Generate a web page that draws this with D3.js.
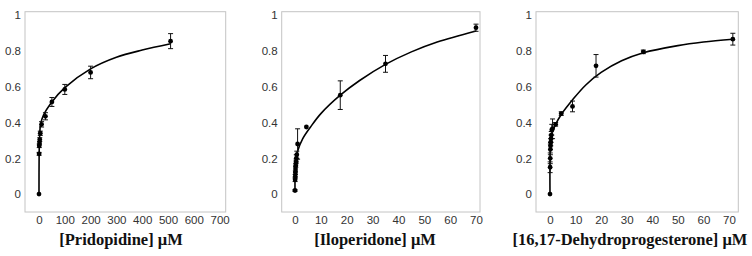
<!DOCTYPE html>
<html>
<head>
<meta charset="utf-8">
<script src="https://cdn.jsdelivr.net/npm/d3@7"></script>
<style>
  html, body { margin: 0; padding: 0; background: #fff; }
  svg { display: block; }
</style>
</head>
<body>
<div id="chart"></div>
<script>
// ---- data -------------------------------------------------------------------------------
const yTicks = [0, 0.2, 0.4, 0.6, 0.8, 1];
const yTickLabels = ['0', '0.2', '0.4', '0.6', '0.8', '1'];

const pridoTicks = [0, 100, 200, 300, 400, 500, 600, 700];
const pridoX   = [0, 0.5, 1, 2, 3, 5, 10, 25, 50, 100, 200, 510];
const pridoY   = [0, 0.225, 0.27, 0.285, 0.305, 0.34, 0.39, 0.435, 0.515, 0.585, 0.68, 0.855];
const pridoErr = [0, 0.008, 0.01, 0.01, 0.01, 0.012, 0.015, 0.02, 0.025, 0.028, 0.035, 0.042];
const pridoFitX = [0, 0.5, 2, 6, 17, 50, 100, 200, 300, 400, 510];
const pridoFitY = [0, 0.22, 0.3, 0.39, 0.44, 0.515, 0.595, 0.7, 0.765, 0.805, 0.84];

const iloTicks = [0, 10, 20, 30, 40, 50, 60, 70];
const iloX   = [0, 0.05, 0.1, 0.15, 0.2, 0.3, 0.4, 0.5, 0.7, 1, 4.4, 17.5, 35, 70];
const iloY   = [0.02, 0.08, 0.1, 0.12, 0.14, 0.16, 0.18, 0.2, 0.22, 0.28, 0.375, 0.553, 0.728, 0.93];
const iloErr = [0.005, 0.01, 0.01, 0.01, 0.015, 0.01, 0.01, 0.02, 0.02, 0.085, 0, 0.08, 0.047, 0.02];
const iloFitX = [0, 0.2, 1, 3, 6, 10, 17.5, 25, 35, 45, 55, 70];
const iloFitY = [0.02, 0.17, 0.24, 0.31, 0.375, 0.45, 0.553, 0.635, 0.725, 0.795, 0.85, 0.912];

const dhpTicks = [0, 10, 20, 30, 40, 50, 60, 70];
const dhpX   = [0, 0.05, 0.1, 0.15, 0.2, 0.3, 0.4, 0.5, 0.7, 1, 2.2, 4.4, 8.8, 18, 36.5, 71.5];
const dhpY   = [0, 0.15, 0.2, 0.25, 0.27, 0.29, 0.31, 0.33, 0.36, 0.365, 0.39, 0.45, 0.49, 0.717, 0.795, 0.866];
const dhpErr = [0, 0.03, 0.03, 0.03, 0.02, 0.02, 0.02, 0.02, 0.03, 0.055, 0.01, 0.01, 0.03, 0.063, 0.01, 0.033];
const dhpFitX = [0, 0.3, 1, 2.2, 4.4, 9, 14, 20, 28, 36.5, 50, 60, 71.5];
const dhpFitY = [0, 0.3, 0.35, 0.39, 0.445, 0.53, 0.61, 0.68, 0.745, 0.79, 0.83, 0.85, 0.866];

const titles = ['[Pridopidine] μM', '[Iloperidone] μM', '[16,17-Dehydroprogesterone] μM'];

// ---- layout ------------------------------------------------------------------------------
const width = 752, height = 256;
const frameTop = 11.7, frameBottom = 212;
const panels = [
  { ticks: pridoTicks, x: pridoX, y: pridoY, err: pridoErr, fx: pridoFitX, fy: pridoFitY,
    left: 25, right: 225.7, x0: 39, x1: 219.6, max: 700, titleX: 121, title: titles[0] },
  { ticks: iloTicks, x: iloX, y: iloY, err: iloErr, fx: iloFitX, fy: iloFitY,
    left: 281.7, right: 480, x0: 295, x1: 476, max: 70, titleX: 375, title: titles[1] },
  { ticks: dhpTicks, x: dhpX, y: dhpY, err: dhpErr, fx: dhpFitX, fy: dhpFitY,
    left: 536, right: 738.3, x0: 550, x1: 729, max: 70, titleX: 630, title: titles[2] }
];

const svg = d3.select('#chart').append('svg')
  .attr('width', width)
  .attr('height', height);

const yScale = d3.scaleLinear()
  .domain([0, 1])
  .range([194.1, 15.2]);

panels.forEach(p => {
  const g = svg.append('g');
  const xScale = d3.scaleLinear()
    .domain([0, p.max])
    .range([p.x0, p.x1]);

  // frame
  g.append('rect')
    .attr('x', p.left)
    .attr('y', frameTop)
    .attr('width', p.right - p.left)
    .attr('height', frameBottom - frameTop)
    .attr('fill', 'none')
    .attr('stroke', '#c4c4c4')
    .attr('stroke-width', 1);

  // y axis labels
  const yAxis = g.append('g')
    .attr('transform', 'translate(' + (p.left - 4) + ',0)')
    .call(d3.axisLeft(yScale).tickValues(yTicks).tickSize(0).tickPadding(0)
      .tickFormat((d, i) => yTickLabels[i]));
  yAxis.select('.domain').remove();
  yAxis.selectAll('text')
    .attr('font-family', 'Liberation Sans, Arial, sans-serif')
    .attr('font-size', '11.5px')
    .attr('fill', '#333');

  // x axis labels
  const xAxis = g.append('g')
    .attr('transform', 'translate(0,' + 216 + ')')
    .call(d3.axisBottom(xScale).tickValues(p.ticks).tickSize(0).tickPadding(0));
  xAxis.select('.domain').remove();
  xAxis.selectAll('text')
    .attr('font-family', 'Liberation Sans, Arial, sans-serif')
    .attr('font-size', '11.5px')
    .attr('fill', '#333');

  // fitted curve
  const fit = p.fx.map((v, i) => ({ x: v, y: p.fy[i] }));
  g.append('path')
    .datum(fit)
    .attr('fill', 'none')
    .attr('stroke', '#000')
    .attr('stroke-width', 1.6)
    .attr('d', d3.line()
      .x(d => xScale(d.x))
      .y(d => yScale(d.y))
      .curve(d3.curveCatmullRom.alpha(0.5)));

  // error bars + points
  const pts = p.x.map((v, i) => ({ x: v, y: p.y[i], e: p.err[i] }));
  const eb = g.selectAll('.err').data(pts.filter(d => d.e > 0)).enter().append('g');
  eb.append('line')
    .attr('x1', d => xScale(d.x)).attr('x2', d => xScale(d.x))
    .attr('y1', d => yScale(d.y - d.e)).attr('y2', d => yScale(d.y + d.e))
    .attr('stroke', '#111').attr('stroke-width', 1);
  [-1, 1].forEach(s => {
    eb.append('line')
      .attr('x1', d => xScale(d.x) - 2.5).attr('x2', d => xScale(d.x) + 2.5)
      .attr('y1', d => yScale(d.y + s * d.e)).attr('y2', d => yScale(d.y + s * d.e))
      .attr('stroke', '#111').attr('stroke-width', 1);
  });
  g.selectAll('.pt').data(pts).enter().append('circle')
    .attr('cx', d => xScale(d.x))
    .attr('cy', d => yScale(d.y))
    .attr('r', 2.4)
    .attr('fill', '#000');

  // title
  g.append('text')
    .attr('x', p.titleX)
    .attr('y', 245)
    .attr('text-anchor', 'middle')
    .attr('font-family', 'Liberation Serif, Times New Roman, serif')
    .attr('font-weight', 'bold')
    .attr('font-size', '16.5px')
    .attr('fill', '#111')
    .text(p.title);
});
</script>
</body>
</html>
